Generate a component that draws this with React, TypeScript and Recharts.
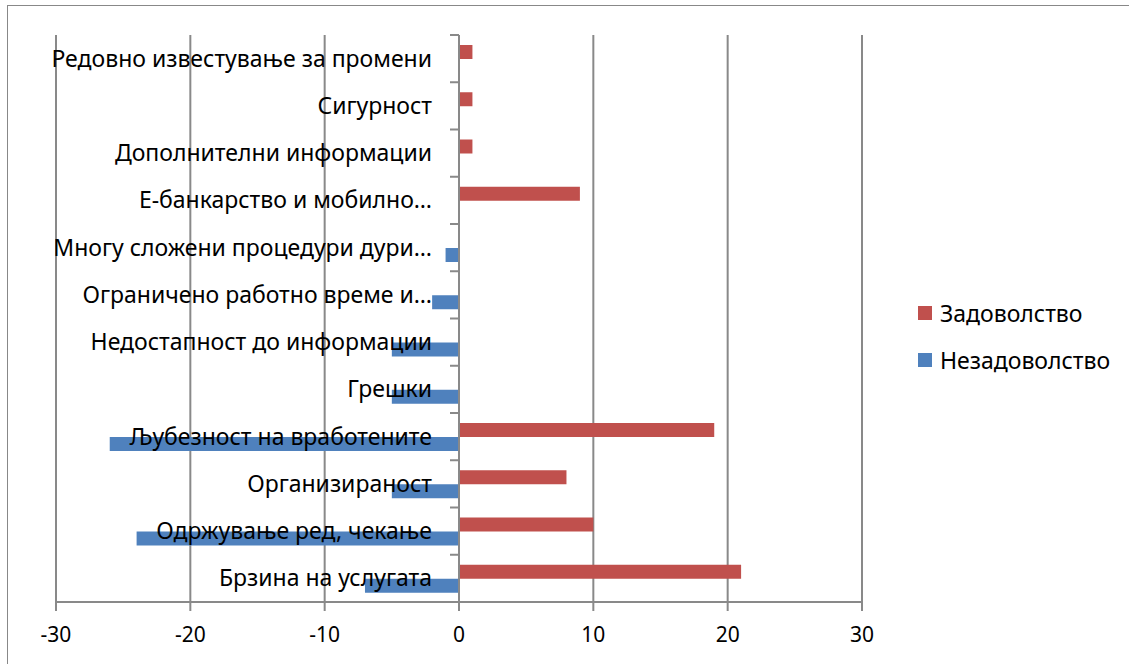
import { BarChart, Bar, XAxis, YAxis, CartesianGrid, ReferenceLine } from 'recharts'

// categories, top to bottom
const categories = [
  'Редовно известување за промени',
  'Сигурност',
  'Дополнителни информации',
  'Е-банкарство и мобилно…',
  'Многу сложени процедури дури…',
  'Ограничено работно време и…',
  'Недостапност до информации',
  'Грешки',
  'Љубезност на вработените',
  'Организираност',
  'Одржување ред, чекање',
  'Брзина на услугата',
]
const satisfied = [1, 1, 1, 9, 0, 0, 0, 0, 19, 8, 10, 21]
const dissatisfied = [0, 0, 0, 0, -1, -2, -5, -5, -26, -5, -24, -7]
const xTicks = [-30, -20, -10, 0, 10, 20, 30]

const series = [
  { key: 'satisfied', name: 'Задоволство', color: '#C0504D' },
  { key: 'dissatisfied', name: 'Незадоволство', color: '#4F81BD' },
]

const data = categories.map((name, i) => ({ name, satisfied: satisfied[i], dissatisfied: dissatisfied[i] }))

const W = 1129
const H = 664
const margin = { top: 35, right: 267, bottom: 22, left: 6 }
const Y_AXIS_W = 50
const X_AXIS_H = 40
const plotLeft = margin.left + Y_AXIS_W
const plotRight = W - margin.right
const plotTop = margin.top
const plotBottom = H - margin.bottom - X_AXIS_H
const zeroX = plotLeft + (plotRight - plotLeft) / 2
const band = (plotBottom - plotTop) / categories.length

const FONT = '"Noto Sans", sans-serif'
const FONT_SIZE = 23
const GRID = '#898989'

function CategoryTick(props: any) {
  const { y, payload, index } = props
  const last = index === categories.length - 1
  return (
    <g>
      <line x1={zeroX - 9} x2={zeroX} y1={y - band / 2} y2={y - band / 2} stroke={GRID} strokeWidth={2} />
      {last && <line x1={zeroX - 9} x2={zeroX} y1={y + band / 2} y2={y + band / 2} stroke={GRID} strokeWidth={2} />}
      <text x={zeroX - 27} y={y} dy="0.35em" textAnchor="end" fill="#000" fontSize={FONT_SIZE} fontFamily={FONT}>
        {payload.value}
      </text>
    </g>
  )
}

export default function App() {
  return (
    <div style={{ position: 'fixed', left: 0, top: 0, width: W, height: H, background: '#fff', overflow: 'hidden' }}>
      <div style={{ position: 'absolute', left: 7, top: 5, width: 1200, height: 700, border: '1px solid #888', boxSizing: 'border-box' }} />
      <div style={{ position: 'absolute', left: 0, top: 0 }}>
        <BarChart width={W} height={H} data={data} layout="vertical" margin={margin} barGap={0} barSize={14}>
          <CartesianGrid horizontal={false} vertical stroke={GRID} strokeWidth={2} />
          <XAxis
            type="number"
            domain={[-30, 30]}
            ticks={xTicks}
            height={X_AXIS_H}
            stroke={GRID}
            strokeWidth={2}
            tickSize={9}
            tickMargin={16}
            tick={{ fill: '#000', fontSize: 21, fontFamily: FONT }}
          />
          {series.map(s => (
            <Bar key={s.key} dataKey={s.key} name={s.name} fill={s.color} isAnimationActive={false} />
          ))}
          <ReferenceLine x={0} stroke={GRID} strokeWidth={2} />
          <YAxis
            type="category"
            dataKey="name"
            width={Y_AXIS_W}
            axisLine={false}
            tickLine={false}
            interval={0}
            tick={<CategoryTick />}
          />
        </BarChart>
      </div>
      <div style={{ position: 'absolute', left: 918, top: 299, fontFamily: FONT, fontSize: FONT_SIZE, color: '#000' }}>
        {series.map(s => (
          <div key={s.key} style={{ display: 'flex', alignItems: 'center', height: 28, marginBottom: 19 }}>
            <span style={{ width: 14, height: 14, background: s.color, marginRight: 8 }} />
            {s.name}
          </div>
        ))}
      </div>
    </div>
  )
}
